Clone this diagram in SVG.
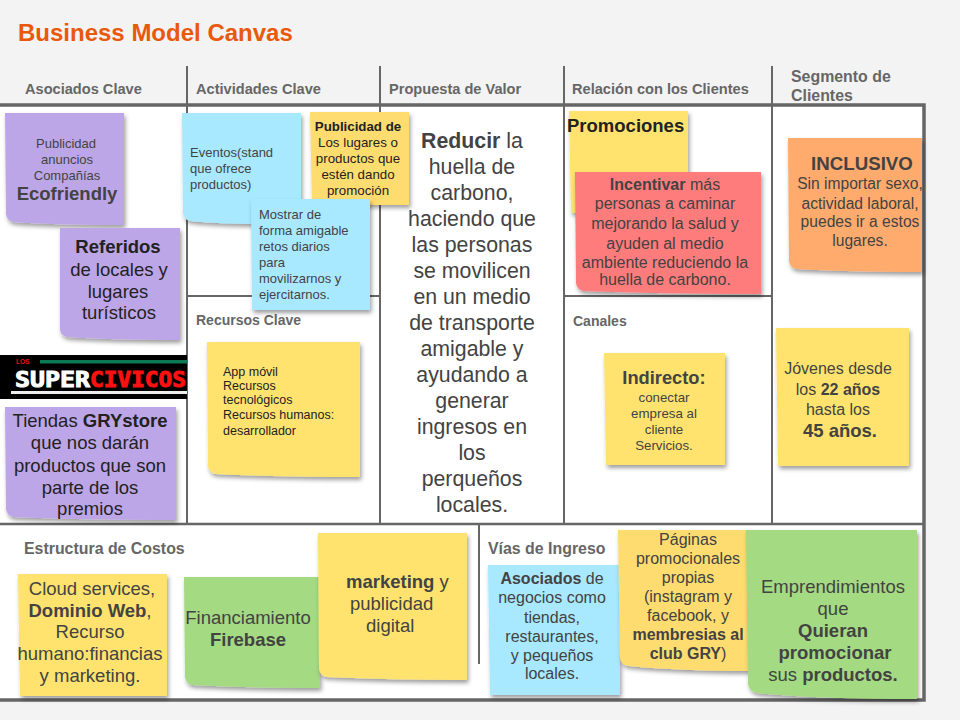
<svg xmlns="http://www.w3.org/2000/svg" width="960" height="720" viewBox="0 0 960 720">
<defs>
<filter id="sh" x="-10%" y="-10%" width="125%" height="125%"><feDropShadow dx="1.5" dy="3" stdDeviation="2" flood-color="#000" flood-opacity="0.38"/></filter>
</defs>
<style>
text{font-family:"Liberation Sans",Arial,sans-serif;fill:#434343}
.h{font-weight:700;font-size:14.6px;fill:#666}
.h2{font-size:15.9px}
.s{filter:url(#sh)}
.p{fill:#bda6e8}.b{fill:#a8e9ff}.y{fill:#ffe36e}.o{fill:#ffdc70}.g{fill:#a4da82}.r{fill:#ff7b7b}.a{fill:#ffab6e}
.c{text-anchor:middle}
.d text{fill:#222}
.ln{stroke:#666;fill:none}
</style>
<rect width="960" height="720" fill="#f3f3f3"/>
<text x="18" y="41" font-size="24" font-weight="700" style="fill:#e8590c">Business Model Canvas</text>
<rect x="0" y="105" width="924" height="595" fill="#fff"/>
<g id="connectors" class="ln">
<path d="M0 105H924V700H0" stroke-width="3.5"/>
<path d="M0 524H924" stroke-width="2.5"/>
<path d="M187 66V524M380 66V524M564 66V524M772 66V524M479 524V664" stroke-width="2"/>
<path d="M187 296H380M564 296H772" stroke-width="2"/>
</g>
<g id="headers">
<text class="h" x="25" y="94">Asociados Clave</text>
<text class="h" x="196" y="94">Actividades Clave</text>
<text class="h" x="389" y="94">Propuesta de Valor</text>
<text class="h" x="572" y="94">Relación con los Clientes</text>
<text class="h h2" x="791" y="82">Segmento de</text>
<text class="h h2" x="791" y="101">Clientes</text>
<text class="h" x="196" y="325" style="font-size:14px">Recursos Clave</text>
<text class="h" x="573" y="326" style="font-size:14px">Canales</text>
<text class="h h2" x="24" y="554">Estructura de Costos</text>
<text class="h h2" x="488" y="554">Vías de Ingreso</text>
</g>
<g id="n-ecofriendly">
<path class="s p" d="M5 113H124V225Q50 225 14 222Q7 221 6 214Z"/>
<g class="c" font-size="13"><text x="66" y="148">Publicidad</text><text x="67" y="164">anuncios</text><text x="67" y="180">Compañías</text><text x="67" y="200" font-size="18.5" font-weight="700">Ecofriendly</text></g>
</g>
<g id="n-referidos" class="d">
<path class="s p" d="M60 228H180V340Q110 340 68 337Q61 336 60 330Z"/>
<g class="c" font-size="18.5"><text x="118" y="253" font-weight="700">Referidos</text><text x="119" y="276">de locales y</text><text x="118" y="298">lugares</text><text x="119" y="319">turísticos</text></g>
</g>
<g id="n-logo">
<rect x="0" y="355" width="187" height="44" fill="#000"/>
<rect x="40" y="360" width="147" height="3.5" fill="#0b7a55"/>
<text x="16" y="364" font-size="6.5" font-weight="700" style="fill:#e11">LOS</text>
<text x="15" y="387" font-size="22" font-weight="700" textLength="75" lengthAdjust="spacingAndGlyphs" style="font-family:'DejaVu Sans Mono',monospace;fill:#fff;stroke:#fff;stroke-width:1">SUPER</text>
<text x="90" y="387" font-size="22" font-weight="700" textLength="96" lengthAdjust="spacingAndGlyphs" style="font-family:'DejaVu Sans Mono',monospace;fill:#f11;stroke:#f11;stroke-width:1">CIVICOS</text>
<rect x="11" y="391" width="176" height="3" fill="#eee"/>
</g>
<g id="n-tiendas" class="d">
<path class="s p" d="M5 407H176V520Q80 520 14 517Q7 516 6 509Z"/>
<g class="c" font-size="18.5"><text x="90" y="427">Tiendas <tspan font-weight="700">GRYstore</tspan></text><text x="90" y="449">que nos darán</text><text x="90" y="472">productos que son</text><text x="90" y="494">parte de los</text><text x="90" y="515">premios</text></g>
</g>
<g id="n-eventos">
<path class="s b" d="M182 113H301V224Q230 225 191 221Q184 220 183 213Z"/>
<g font-size="13"><text x="190" y="157">Eventos(stand</text><text x="190" y="173">que ofrece</text><text x="190" y="189">productos)</text></g>
</g>
<g id="n-publicidad" class="d">
<path class="s o" d="M310 112H409V205H312Z"/>
<g class="c" font-size="13.3"><text x="358" y="131" font-weight="700">Publicidad de</text><text x="358" y="147">Los lugares o</text><text x="358" y="163">productos que</text><text x="358" y="179">estén dando</text><text x="358" y="195">promoción</text></g>
</g>
<g id="n-mostrar">
<path class="s b" d="M251 199H370V310H252Z"/>
<g font-size="13"><text x="259" y="219">Mostrar de</text><text x="259" y="235">forma amigable</text><text x="259" y="251">retos diarios</text><text x="259" y="267">para</text><text x="259" y="283">movilizarnos y</text><text x="259" y="299">ejercitarnos.</text></g>
</g>
<g id="n-app" class="d">
<path class="s y" d="M207 342H360V477Q280 477 216 474Q209 473 208 466Z"/>
<g font-size="12.5"><text x="223" y="376">App móvil</text><text x="223" y="390">Recursos</text><text x="223" y="404">tecnológicos</text><text x="223" y="419">Recursos humanos:</text><text x="223" y="435">desarrollador</text></g>
</g>
<g id="n-propuesta" class="c" font-size="21.3">
<text x="472" y="148"><tspan font-weight="700">Reducir</tspan> la</text><text x="472" y="174">huella de</text><text x="472" y="200">carbono,</text><text x="472" y="226">haciendo que</text><text x="472" y="252">las personas</text><text x="472" y="278">se movilicen</text><text x="472" y="304">en un medio</text><text x="472" y="330">de transporte</text><text x="472" y="356">amigable y</text><text x="472" y="382">ayudando a</text><text x="472" y="408">generar</text><text x="472" y="434">ingresos en</text><text x="472" y="460">los</text><text x="472" y="486">perqueños</text><text x="472" y="512">locales.</text>
</g>
<g id="n-promociones" class="d">
<path class="s y" d="M569 111H688V213H571Z"/>
<text x="567" y="132" font-size="18.5" font-weight="700">Promociones</text>
</g>
<g id="n-incentivar">
<path class="s r" d="M575 172H761V294Q660 294 584 291Q577 290 576 283Z"/>
<g class="c" font-size="16"><text x="665" y="190"><tspan font-weight="700">Incentivar</tspan> más</text><text x="665" y="209">personas a caminar</text><text x="665" y="229">mejorando la salud y</text><text x="665" y="249">ayuden al  medio</text><text x="665" y="268">ambiente reduciendo la</text><text x="665" y="285">huella de carbono.</text></g>
</g>
<g id="n-indirecto">
<path class="s y" d="M604 353H725V465H606Z"/>
<g class="c"><text x="664" y="384" font-size="18.3" font-weight="700">Indirecto:</text><g font-size="13.3"><text x="664" y="402">conectar</text><text x="664" y="418">empresa al</text><text x="664" y="434">cliente</text><text x="664" y="450">Servicios.</text></g></g>
</g>
<g id="n-inclusivo">
<path class="s a" d="M788 138H922V272Q850 272 797 269Q790 268 789 261Z"/>
<g class="c"><text x="862" y="170" font-size="18.7" font-weight="700">INCLUSIVO</text><g font-size="15.6"><text x="860" y="189">Sin importar sexo,</text><text x="860" y="209">actividad laboral,</text><text x="860" y="227">puedes ir a estos</text><text x="860" y="246">lugares.</text></g></g>
</g>
<g id="n-jovenes">
<path class="s y" d="M776 328H909V466H778Z"/>
<g class="c" font-size="16"><text x="838" y="374">Jóvenes desde</text><text x="838" y="395">los <tspan font-weight="700">22 años</tspan></text><text x="838" y="415">hasta los</text><text x="840" y="437" font-size="18.5" font-weight="700">45 años.</text></g>
</g>
<g id="n-cloud">
<path class="s y" d="M18 574H167V696H20Z"/>
<g class="c" font-size="18.5"><text x="92" y="595">Cloud services,</text><text x="90" y="617"><tspan font-weight="700">Dominio Web</tspan>,</text><text x="90" y="638">Recurso</text><text x="90" y="660">humano:financias</text><text x="90" y="682">y marketing.</text></g>
</g>
<g id="n-firebase">
<path class="s g" d="M184 577H320V688Q250 688 193 685Q186 684 185 677Z"/>
<g class="c" font-size="18.5"><text x="248" y="624">Financiamiento</text><text x="248" y="646" font-weight="700">Firebase</text></g>
</g>
<g id="n-marketing">
<path class="s y" d="M318 533H467V680Q390 680 327 677Q320 676 319 669Z"/>
<g font-size="18.5"><text x="346" y="588"><tspan font-weight="700">marketing</tspan> y</text><text x="350" y="610">publicidad</text><text x="366" y="632">digital</text></g>
</g>
<g id="n-asociados">
<path class="s b" d="M488 565H620V695H490Z"/>
<g class="c" font-size="16"><text x="552" y="584"><tspan font-weight="700">Asociados</tspan> de</text><text x="552" y="603">negocios como</text><text x="552" y="623">tiendas,</text><text x="552" y="642">restaurantes,</text><text x="552" y="661">y pequeños</text><text x="552" y="679">locales.</text></g>
</g>
<g id="n-paginas">
<path class="s o" d="M618 530H750V671Q680 671 629 666Q621 665 620 658Z"/>
<g class="c" font-size="16"><text x="688" y="545">Páginas</text><text x="688" y="564">promocionales</text><text x="688" y="583">propias</text><text x="688" y="602">(instagram y</text><text x="688" y="621">facebook, y</text><text x="688" y="640" font-weight="700">membresias al</text><text x="688" y="659"><tspan font-weight="700">club GRY</tspan>)</text></g>
</g>
<g id="n-emprendimientos">
<path class="s g" d="M746 530H917V699Q820 699 757 693Q749 691 748 684Z"/>
<g class="c" font-size="18.5"><text x="833" y="593">Emprendimientos</text><text x="833" y="615">que</text><text x="833" y="637" font-weight="700">Quieran</text><text x="835" y="659" font-weight="700">promocionar</text><text x="833" y="681">sus <tspan font-weight="700">productos.</tspan></text></g>
</g>
</svg>
